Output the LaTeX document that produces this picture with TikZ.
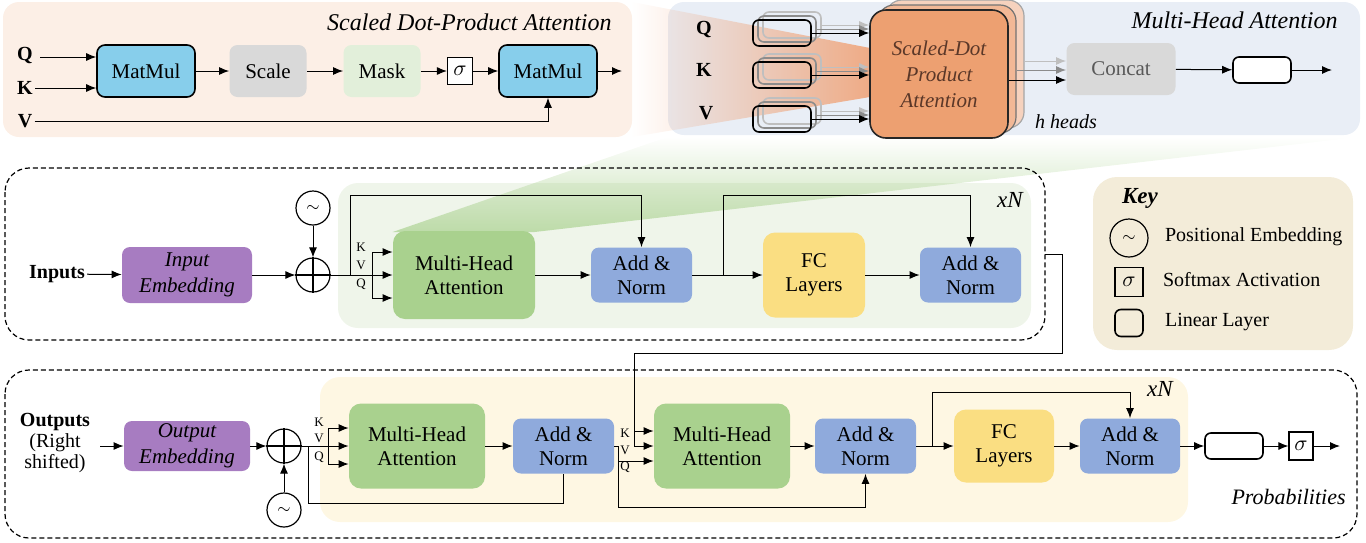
\documentclass[tikz,border=0pt]{standalone}
\usepackage{fontspec}
\setmainfont{Liberation Serif}
\usetikzlibrary{arrows.meta,fadings,calc}
\definecolor{cSky}{RGB}{135,206,235}
\definecolor{cGrayBox}{RGB}{217,217,217}
\definecolor{cMask}{RGB}{226,239,218}
\definecolor{cPeach}{RGB}{252,239,230}
\definecolor{cBluePanel}{RGB}{233,238,246}
\definecolor{cOrange}{RGB}{237,160,113}
\definecolor{cOrangeB}{RGB}{242,184,150}
\definecolor{cOrangeC}{RGB}{246,210,190}
\definecolor{cWedge}{RGB}{240,160,115}
\definecolor{cGreen}{RGB}{169,209,142}
\definecolor{cGreenPanel}{RGB}{239,245,234}
\definecolor{cCream}{RGB}{254,247,227}
\definecolor{cKey}{RGB}{243,236,217}
\definecolor{cPurple}{RGB}{167,124,193}
\definecolor{cAddNorm}{RGB}{143,170,220}
\definecolor{cFC}{RGB}{250,222,130}
\definecolor{cSdpaText}{RGB}{90,55,40}
\tikzset{
 nf/.style={font=\fontsize{10.5}{12}\selectfont},
 itf/.style={font=\fontsize{10.5}{12}\selectfont\itshape},
 ttl/.style={font=\fontsize{12}{14}\selectfont\itshape, inner sep=0pt},
 sz/.style 2 args={minimum width=#1*0.5pt, minimum height=#2*0.5pt},
 bx/.style={rounded corners=4pt, align=center, inner sep=0pt, nf},
 blk/.style={bx, draw=black, line width=0.8pt},
 arr/.style={-{Latex[length=5pt,width=4pt]}, line width=0.5pt},
 ln/.style={line width=0.5pt},
 circ/.style={circle, draw, line width=0.6pt, minimum size=17pt, inner sep=0pt, font=\fontsize{8}{9}\selectfont},
 sigbox/.style={draw, line width=0.6pt, inner sep=0pt, nf},
 linb/.style={draw, rounded corners=3pt, line width=0.8pt, sz={58}{26}, inner sep=0pt},
 kvq/.style={font=\fontsize{6.5}{7}\selectfont, inner sep=0pt},
 lab/.style={font=\fontsize{10}{12}\selectfont\bfseries, inner sep=1pt},
 dashbox/.style={line width=0.6pt, dash pattern=on 2.5pt off 1.5pt, rounded corners=12pt},
 sdpa/.style={rounded corners=8pt, sz={138}{128}, inner sep=0pt, align=center},
}
\begin{document}
\begin{tikzpicture}[x=0.5pt,y=-0.5pt]
\useasboundingbox (0,0) rectangle (1366,542);

% ---------- background panels
\fill[cPeach, rounded corners=8pt] (3,2) rectangle (632,137);
\fill[cBluePanel, rounded corners=8pt] (668,2) rectangle (1360,135);
\fill[cGreenPanel, rounded corners=10pt] (338,183) rectangle (1031,328);
\fill[cCream, rounded corners=10pt] (320,377) rectangle (1188,522);
\fill[cKey, rounded corners=12pt] (1093,177) rectangle (1353,350);

% ---------- zoom wedges
\fill[cWedge, path fading=west, fill opacity=0.85] (632,2) -- (870,48) -- (870,97) -- (632,137) -- cycle;
\fill[cGreen, path fading=north, fill opacity=0.7] (393,232) -- (668,137) -- (1360,137) -- (535,232) -- cycle;

% ---------- dashed frames
\draw[dashbox] (5,168) rectangle (1045,340);
\draw[dashbox] (5,370) rectangle (1357,538);

% ================= Scaled Dot-Product Attention
\node[ttl, anchor=east] (t1) at (612,22) {Scaled Dot-Product Attention};
\node[lab] (qL) at (25,55) {Q};
\node[lab] (kL) at (25,88) {K};
\node[lab] (vL) at (25,121) {V};
\node[blk, fill=cSky, sz={98}{52}] (mm1) at (146,71) {MatMul};
\node[bx, fill=cGrayBox, sz={77}{52}] (scale) at (268,71) {Scale};
\node[bx, fill=cMask, sz={77}{52}] (mask) at (382,71) {Mask};
\node[sigbox, fill=white, sz={25}{27}] (sg1) at (460,71) {$\sigma$};
\node[blk, fill=cSky, sz={98}{52}] (mm2) at (548,71) {MatMul};
\coordinate (o1) at (622,71);
\coordinate (qa) at (40,57);
\draw[arr] (qa) -- (mm1.west |- qa);
\draw[arr] (kL) -- (mm1.west |- kL);
\draw[arr] (vL) -| (mm2.south);
\draw[arr] (mm1) -- (scale);
\draw[arr] (scale) -- (mask);
\draw[arr] (mask) -- (sg1);
\draw[arr] (sg1) -- (mm2);
\draw[arr] (mm2) -- (o1);

% ================= Multi-Head Attention
\node[ttl, anchor=east] (t2) at (1338,20) {Multi-Head Attention};
\node[lab] (q2L) at (704,29) {Q};
\node[lab] (k2L) at (704,70) {K};
\node[lab] (v2L) at (706,113) {V};
\foreach \nm/\yy in {q/33,k/75,v/119}{
  \node[linb, draw=black!25] (\nm3) at (792,\yy-8) {};
  \node[linb, draw=black!45] (\nm2) at (787,\yy-4) {};
  \node[linb, draw=black] (\nm1) at (782,\yy) {};
}
\node[sdpa, draw=black!35, line width=0.6pt, fill=cOrangeC] (s3) at (955,64) {};
\node[sdpa, draw=black!55, line width=0.6pt, fill=cOrangeB] (s2) at (947,69) {};
\node[sdpa, draw=black!85, line width=0.8pt, fill=cOrange, text=cSdpaText,
      font=\fontsize{10.5}{13}\selectfont\itshape] (s1) at (939,74) {Scaled-Dot\\Product\\Attention};
\foreach \nm in {q,k,v}{
  \draw[arr, black!25] (\nm3.east) -- (s1.west |- \nm3.east);
  \draw[arr, black!45] (\nm2.east) -- (s1.west |- \nm2.east);
  \draw[arr] (\nm1.east) -- (s1.west |- \nm1.east);
}
\node[bx, fill=cGrayBox, sz={109}{52}, text=black!65] (cc) at (1121,69) {Concat};
\coordinate (a3) at ($(s3.east)+(0,-3)$);
\coordinate (a2) at ($(s2.east)+(0,1)$);
\coordinate (a1) at ($(s1.east)+(0,6)$);
\draw[arr, black!25] (a3) -- (cc.west |- a3);
\draw[arr, black!45] (a2) -- (cc.west |- a2);
\draw[arr] (a1) -- (cc.west |- a1);
\node[linb, fill=white] (lin2) at (1262,70) {};
\coordinate (o2) at (1332,70);
\draw[arr] (cc) -- (lin2);
\draw[arr] (lin2) -- (o2);
\node[itf, font=\fontsize{10}{12}\selectfont\itshape] (hh) at (1066,122) {h heads};

% ================= Encoder
\node[font=\fontsize{11.5}{13}\selectfont\itshape, inner sep=0pt] (xn1) at (1010,200) {xN};
\node[lab] (inL) at (57,274) {Inputs};
\node[bx, fill=cPurple, sz={130}{56}, font=\fontsize{10.5}{13}\selectfont\itshape] (inEmb) at (187,275) {Input\\Embedding};
\node[circ] (plus1) at (313,275) {};
\draw[line width=0.6pt] (plus1.north) -- (plus1.south) (plus1.west) -- (plus1.east);
\node[circ] (pe1) at (313,208) {$\sim$};
\draw[arr] (inL) -- (inEmb);
\draw[arr] (inEmb) -- (plus1);
\draw[arr] (pe1) -- (plus1);
\node[bx, fill=cGreen, sz={142}{88}, rounded corners=6pt] (mha1) at (464,275) {Multi-Head\\Attention};
\node[bx, fill=cAddNorm, sz={101}{55}] (an1) at (641.5,275) {Add \&\\Norm};
\node[bx, fill=cFC, sz={102}{85}, rounded corners=6pt] (fc1) at (814,275) {FC\\Layers};
\node[bx, fill=cAddNorm, sz={101}{55}] (an2) at (970.5,275) {Add \&\\Norm};
\coordinate (sK) at (372,252);
\coordinate (sQ) at (372,298);
\draw[arr] (plus1.east) -- (mha1.west |- plus1);
\draw[ln] (sK) -- (sQ);
\draw[arr] (sK) -- (mha1.west |- sK);
\draw[arr] (sQ) -- (mha1.west |- sQ);
\node[kvq] (k1) at (361,247) {K};
\node[kvq] (v1) at (361,265) {V};
\node[kvq] (qq1) at (361,284) {Q};
\coordinate (r1) at (350,275);
\coordinate (top1) at (0,195);
\draw[arr] (r1) -- (r1 |- top1) -- (an1.north |- top1) -- (an1.north);
\draw[arr] (mha1) -- (an1);
\draw[arr] (an1) -- (fc1);
\draw[arr] (fc1) -- (an2);
\coordinate (b1) at (723,275);
\draw[arr] (b1) -- (b1 |- top1) -- (an2.north |- top1) -- (an2.north);

% encoder output to decoder
\coordinate (eo) at (1045,254);
\coordinate (dV) at (634,446);
\coordinate (dK) at (634,431);
\draw[ln] (eo) -- (1062,254) -- (1062,353) -- (634,353) -- (dV);

% ================= Decoder
\node[font=\fontsize{11.5}{13}\selectfont\itshape, inner sep=0pt] (xn2) at (1160,389) {xN};
\node[font=\fontsize{11}{13}\selectfont\itshape, anchor=east, inner sep=0pt] (prob) at (1346,497) {Probabilities};
\node[lab, align=center, font=\fontsize{10}{10.5}\selectfont] (outL) at (55,443) {\textbf{Outputs}\\(Right\\shifted)};
\node[bx, fill=cPurple, sz={126}{50}, font=\fontsize{10.5}{13}\selectfont\itshape] (outEmb) at (187,446) {Output\\Embedding};
\node[circ] (plus2) at (284,446) {};
\draw[line width=0.6pt] (plus2.north) -- (plus2.south) (plus2.west) -- (plus2.east);
\node[circ] (pe2) at (284,510) {$\sim$};
\draw[arr, shorten <=4pt] (outL.east |- outEmb) -- (outEmb);
\draw[arr] (outEmb) -- (plus2);
\draw[arr] (pe2) -- (plus2);
\node[bx, fill=cGreen, sz={136}{85}, rounded corners=6pt] (mha3) at (417,446) {Multi-Head\\Attention};
\node[bx, fill=cAddNorm, sz={101}{55}] (an3) at (563.5,446) {Add \&\\Norm};
\node[bx, fill=cGreen, sz={136}{85}, rounded corners=6pt] (mha4) at (722,446) {Multi-Head\\Attention};
\node[bx, fill=cAddNorm, sz={101}{55}] (an4) at (865.5,446) {Add \&\\Norm};
\node[bx, fill=cFC, sz={100}{73}, rounded corners=6pt] (fc2) at (1004,446) {FC\\Layers};
\node[bx, fill=cAddNorm, sz={100}{55}] (an5) at (1130,446) {Add \&\\Norm};
\node[linb, fill=white] (lin3) at (1234,446) {};
\node[sigbox, fill=white, sz={24}{28}] (sg3) at (1301,446) {$\sigma$};
\coordinate (o3) at (1340,446);

% decoder self-attention inputs
\coordinate (dsK) at (328,428);
\coordinate (dsQ) at (328,464);
\draw[arr] (plus2.east) -- (mha3.west |- plus2);
\draw[ln] (dsK) -- (dsQ);
\draw[arr] (dsK) -- (mha3.west |- dsK);
\draw[arr] (dsQ) -- (mha3.west |- dsQ);
\node[kvq] (k3) at (319,422) {K};
\node[kvq] (v3) at (319,438) {V};
\node[kvq] (qq3) at (319,457) {Q};
\coordinate (r3) at (308,446);
\coordinate (bot1) at (0,503);
\draw[ln] (r3) -- (r3 |- bot1) -- (an3.south |- bot1) -- (an3.south);
\draw[arr] (mha3) -- (an3);

% cross attention
\draw[arr] (dV) -- (mha4.west |- dV);
\draw[arr] (dK) -- (mha4.west |- dK);
\coordinate (j3) at (618,446);
\coordinate (dQ) at (618,461);
\coordinate (bot2) at (0,507);
\draw[arr] (an3.east) -- (j3) -- (j3 |- bot2) -- (an4.south |- bot2) -- (an4.south);
\draw[arr] (dQ) -- (mha4.west |- dQ);
\node[kvq] (k4) at (625,433) {K};
\node[kvq] (v4) at (625,450) {V};
\node[kvq] (qq4) at (625,467) {Q};
\draw[arr] (mha4) -- (an4);
\draw[arr] (an4) -- (fc2);
\draw[arr] (fc2) -- (an5);
\coordinate (b2) at (932,446);
\coordinate (top3) at (0,392);
\draw[arr] (b2) -- (b2 |- top3) -- (an5.north |- top3) -- (an5.north);
\draw[arr] (an5) -- (lin3);
\draw[arr] (lin3) -- (sg3);
\draw[arr] (sg3) -- (o3);

% ================= Key
\node[font=\fontsize{11.5}{13}\selectfont\bfseries\itshape, inner sep=0pt] (keyT) at (1140,198) {Key};
\node[circ, minimum size=19pt] (kpe) at (1129,238) {$\sim$};
\node[sigbox, sz={28}{29}] (ksg) at (1129,282) {$\sigma$};
\node[linb, sz={28}{27}] (kln) at (1129,323) {};
\node[nf, font=\fontsize{10}{12}\selectfont, anchor=west] (kt1) at (1158,237) {Positional Embedding};
\node[nf, font=\fontsize{10}{12}\selectfont, anchor=west] (kt2) at (1156,280) {Softmax Activation};
\node[nf, font=\fontsize{10}{12}\selectfont, anchor=west] (kt3) at (1158,322) {Linear Layer};
\end{tikzpicture}
\end{document}
